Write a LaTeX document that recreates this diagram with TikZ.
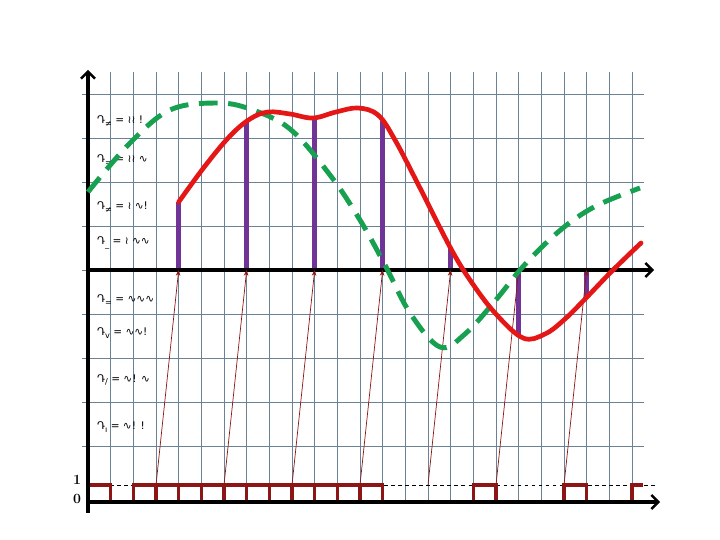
\documentclass[tikz,border=0pt]{standalone}
\usepackage{fontspec}
\newfontfamily\symfont{DejaVu Sans}
\usetikzlibrary{arrows.meta}
\definecolor{gridcol}{RGB}{105,130,150}
\definecolor{sigred}{RGB}{228,22,22}
\definecolor{refgreen}{RGB}{22,160,80}
\definecolor{barpurple}{RGB}{112,52,150}
\definecolor{pulsered}{RGB}{140,22,22}
\newcommand{\lvl}[2]{{\symfont Դ\raisebox{-0.5ex}{\scriptsize #1} = #2}}

\begin{document}
\begin{tikzpicture}[x=0.03cm, y=-0.03cm,
  gridline/.style={gridcol, line width=0.7pt},
  axis/.style={black, line width=3pt},
  axisarrow/.style={axis, -{Straight Barb[length=6pt,width=12pt,line width=2pt]}},
  signal/.style={sigred, line width=4pt, line cap=round, line join=round},
  refwave/.style={refgreen, line width=4.2pt, dash pattern=on 16pt off 9pt},
  sample/.style={barpurple, line width=4pt},
  pulse/.style={pulsered, line width=2.6pt},
  trig/.style={pulsered, line width=0.6pt, -{Stealth[length=5pt,width=4pt]}},
  lbl/.style={anchor=west, font=\small, inner sep=0pt},
]
\useasboundingbox (0,0) rectangle (720,540);

% ---- Grid ----
\foreach \k in {1,...,24}
  \draw[gridline] (88+22.667*\k,72) -- (88+22.667*\k,502);
\foreach \j in {0,...,8}
  \draw[gridline] (82,94+44*\j) -- (644,94+44*\j);

% ---- Level codes ----
\node[lbl] (c7) at (97,121) {\lvl{≠}{≀≀ !}};
\node[lbl] (c6) at (97,160) {\lvl{=}{≀≀ ∿}};
\node[lbl] (c5) at (97,207) {\lvl{≠}{≀ ∿!}};
\node[lbl] (c4) at (97,243) {\lvl{\_}{≀ ∿∿}};
\node[lbl] (c3) at (97,300) {\lvl{=}{∿∿∿}};
\node[lbl] (c2) at (97,333) {\lvl{v}{∿∿!}};
\node[lbl] (c1) at (97,380) {\lvl{/}{∿! ∿}};
\node[lbl] (c0) at (97,427) {\lvl{ı}{∿! !}};

% ---- Clock pulses ----
\draw[black, dashed, line width=0.6pt] (110,485) -- (656,485);
\foreach \k in {0,2,3,4,5,6,7,8,9,10,11,12,17,21}
  \draw[pulse] (88+22.667*\k,502) rectangle ++(22.667,-17);
\draw[pulse] (632,502) -- (632,485) -- (643,485);

\node[font=\large\bfseries] (one) at (77,480) {1};
\node[font=\large\bfseries] (zero) at (77,499) {0};

% ---- Sampling instants ----
\coordinate (t1) at (156,485);    \coordinate (s1) at (178.67,270);
\coordinate (t2) at (224,485);    \coordinate (s2) at (246.67,270);
\coordinate (t3) at (292,485);    \coordinate (s3) at (314.67,270);
\coordinate (t4) at (360,485);    \coordinate (s4) at (382.67,270);
\coordinate (t5) at (428,485);    \coordinate (s5) at (450.67,270);
\coordinate (t6) at (496,485);    \coordinate (s6) at (518.67,270);
\coordinate (t7) at (564,485);    \coordinate (s7) at (586.67,270);

\coordinate (v1) at (178.67,202);
\coordinate (v2) at (246.67,120);
\coordinate (v3) at (314.67,118);
\coordinate (v4) at (382.67,121);
\coordinate (v5) at (450.67,247);
\coordinate (v6) at (518.67,337);
\coordinate (v7) at (586.67,297);

% samples
\draw[sample] (s1) -- (v1);
\draw[sample] (s2) -- (v2);
\draw[sample] (s3) -- (v3);
\draw[sample] (s4) -- (v4);
\draw[sample] (s5) -- (v5);
\draw[sample] (s6) -- (v6);
\draw[sample] (s7) -- (v7);

% ---- Axes ----
\draw[axis] (88,502) -- (600,502);
\draw[axisarrow] (88,513) -- (88,70);
\draw[axisarrow] (88,270) -- (654,270);
\draw[axisarrow] (88,502) -- (660,502);

% triggers
\draw[trig] (t1) -- (s1);
\draw[trig] (t2) -- (s2);
\draw[trig] (t3) -- (s3);
\draw[trig] (t4) -- (s4);
\draw[trig] (t5) -- (s5);
\draw[trig] (t6) -- (s6);
\draw[trig] (t7) -- (s7);

% ---- Reference wave ----
\draw[refwave] plot[smooth, tension=0.6] coordinates {
  (88,192) (130,143) (170,110) (216,103) (250,109) (290,129)
  (330,175) (360,220) (385,265) (410,313) (440,347) (465,334)
  (495,301) (520,270) (546,243) (572,221) (600,204) (640,188)};

% ---- Signal ----
\draw[signal] plot[smooth, tension=0.6] coordinates {
  (178.67,202) (205,166) (230,136) (250,119) (268,112) (290,114)
  (313,118) (336,112) (358,108) (378,115) (395,140) (420,188)
  (450,247) (470,280) (495,313) (523,338) (545,334) (565,319)
  (587,297) (612,271) (641,243)};

\end{tikzpicture}
\end{document}
